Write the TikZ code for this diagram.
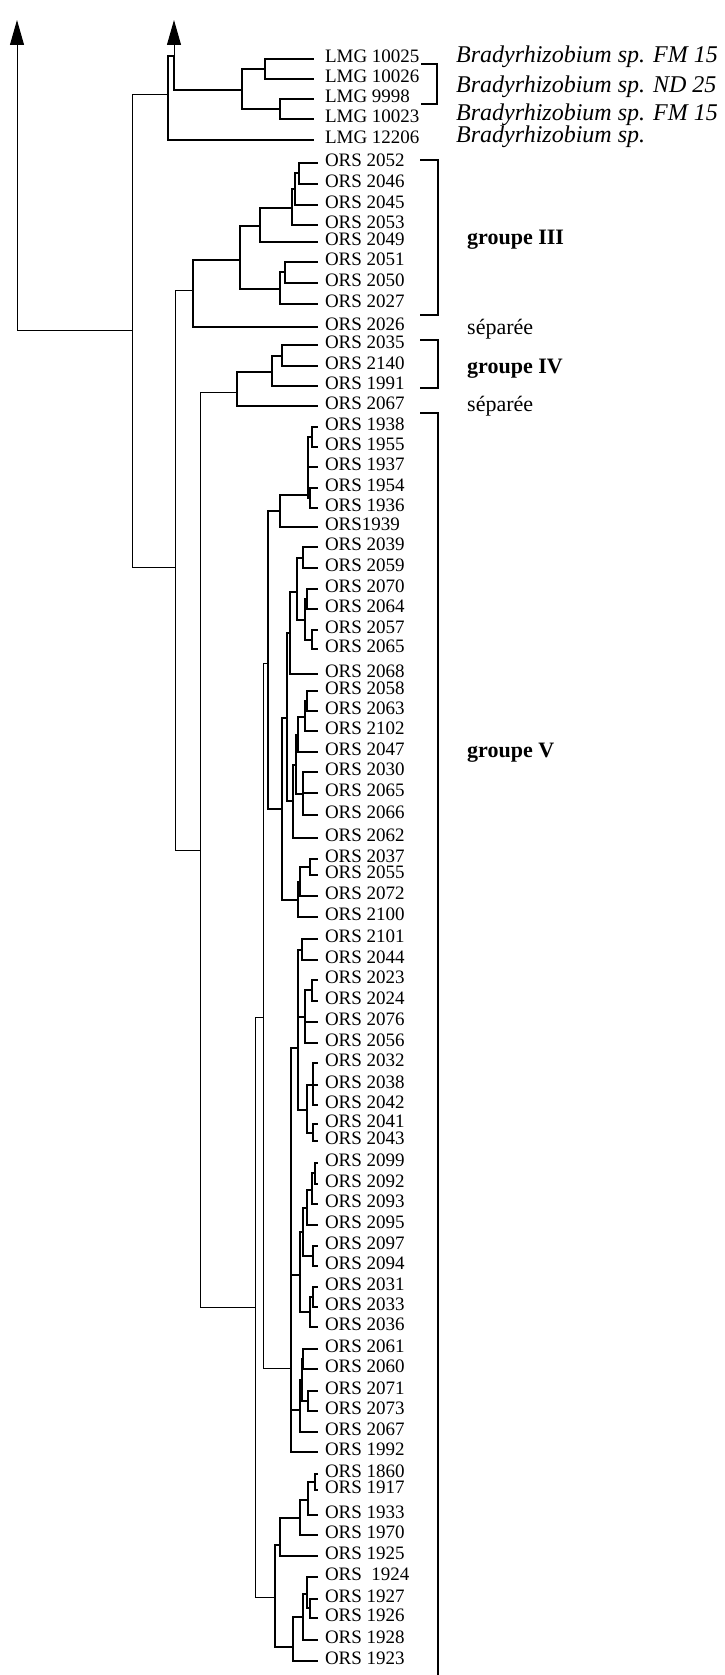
\documentclass[tikz,border=0pt]{standalone}
\usepackage{fontspec}
\setmainfont{Liberation Serif}
\usetikzlibrary{arrows.meta}
\begin{document}
\begin{tikzpicture}[x=1pt,y=-1pt,
  lk/.style={line width=1.8pt, line join=miter},
  lkthin/.style={line width=1.0pt, line join=miter},
  brk/.style={line width=1.3pt},
  leaf/.style={anchor=west, inner sep=0pt, outer xsep=7pt, outer ysep=0pt,
    text height=0.66em, text depth=0pt, font=\fontsize{19}{19}\selectfont},
  lmg/.style={leaf, outer xsep=11pt},
  spec/.style={anchor=west, inner sep=0pt, text height=0.66em, text depth=0pt,
    font=\fontsize{24}{24}\selectfont\itshape},
  grp/.style={anchor=base west, inner sep=0pt, font=\fontsize{22}{22}\selectfont\bfseries},
  sep/.style={anchor=base west, inner sep=0pt, font=\fontsize{22}{22}\selectfont}
]
\useasboundingbox (0,0) rectangle (725,1675);

% ---------- leaves ----------
\node[lmg] (l1) at (314,59) {LMG 10025};
\node[lmg] (l2) at (314,79) {LMG 10026};
\node[lmg] (l3) at (314,99) {LMG 9998};
\node[lmg] (l4) at (314,119) {LMG 10023};
\node[lmg] (l5) at (314,140) {LMG 12206};
\node[leaf] (l6) at (318,163) {ORS 2052};
\node[leaf] (l7) at (318,184) {ORS 2046};
\node[leaf] (l8) at (318,205) {ORS 2045};
\node[leaf] (l9) at (318,225) {ORS 2053};
\node[leaf] (l10) at (318,242) {ORS 2049};
\node[leaf] (l11) at (318,262) {ORS 2051};
\node[leaf] (l12) at (318,283) {ORS 2050};
\node[leaf] (l13) at (318,304) {ORS 2027};
\node[leaf] (l14) at (318,327) {ORS 2026};
\node[leaf] (l15) at (318,345) {ORS 2035};
\node[leaf] (l16) at (318,366) {ORS 2140};
\node[leaf] (l17) at (318,386) {ORS 1991};
\node[leaf] (l18) at (318,406) {ORS 2067};
\node[leaf] (l19) at (318,427) {ORS 1938};
\node[leaf] (l20) at (318,447) {ORS 1955};
\node[leaf] (l21) at (318,467) {ORS 1937};
\node[leaf] (l22) at (318,488) {ORS 1954};
\node[leaf] (l23) at (318,508) {ORS 1936};
\node[leaf] (l24) at (318,527) {ORS1939};
\node[leaf] (l25) at (318,547) {ORS 2039};
\node[leaf] (l26) at (318,568) {ORS 2059};
\node[leaf] (l27) at (318,589) {ORS 2070};
\node[leaf] (l28) at (318,609) {ORS 2064};
\node[leaf] (l29) at (318,630) {ORS 2057};
\node[leaf] (l30) at (318,649) {ORS 2065};
\node[leaf] (l31) at (318,674) {ORS 2068};
\node[leaf] (l32) at (318,691) {ORS 2058};
\node[leaf] (l33) at (318,711) {ORS 2063};
\node[leaf] (l34) at (318,731) {ORS 2102};
\node[leaf] (l35) at (318,752) {ORS 2047};
\node[leaf] (l36) at (318,772) {ORS 2030};
\node[leaf] (l37) at (318,793) {ORS 2065};
\node[leaf] (l38) at (318,815) {ORS 2066};
\node[leaf] (l39) at (318,838) {ORS 2062};
\node[leaf] (l40) at (318,859) {ORS 2037};
\node[leaf] (l41) at (318,875) {ORS 2055};
\node[leaf] (l42) at (318,896) {ORS 2072};
\node[leaf] (l43) at (318,917) {ORS 2100};
\node[leaf] (l44) at (318,939) {ORS 2101};
\node[leaf] (l45) at (318,960) {ORS 2044};
\node[leaf] (l46) at (318,980) {ORS 2023};
\node[leaf] (l47) at (318,1001) {ORS 2024};
\node[leaf] (l48) at (318,1022) {ORS 2076};
\node[leaf] (l49) at (318,1043) {ORS 2056};
\node[leaf] (l50) at (318,1063) {ORS 2032};
\node[leaf] (l51) at (318,1085) {ORS 2038};
\node[leaf] (l52) at (318,1105) {ORS 2042};
\node[leaf] (l53) at (318,1124) {ORS 2041};
\node[leaf] (l54) at (318,1141) {ORS 2043};
\node[leaf] (l55) at (318,1163) {ORS 2099};
\node[leaf] (l56) at (318,1184) {ORS 2092};
\node[leaf] (l57) at (318,1204) {ORS 2093};
\node[leaf] (l58) at (318,1225) {ORS 2095};
\node[leaf] (l59) at (318,1246) {ORS 2097};
\node[leaf] (l60) at (318,1266) {ORS 2094};
\node[leaf] (l61) at (318,1287) {ORS 2031};
\node[leaf] (l62) at (318,1307) {ORS 2033};
\node[leaf] (l63) at (318,1327) {ORS 2036};
\node[leaf] (l64) at (318,1349) {ORS 2061};
\node[leaf] (l65) at (318,1369) {ORS 2060};
\node[leaf] (l66) at (318,1391) {ORS 2071};
\node[leaf] (l67) at (318,1411) {ORS 2073};
\node[leaf] (l68) at (318,1432) {ORS 2067};
\node[leaf] (l69) at (318,1452) {ORS 1992};
\node[leaf] (l70) at (318,1474) {ORS 1860};
\node[leaf] (l71) at (318,1490) {ORS 1917};
\node[leaf] (l72) at (318,1515) {ORS 1933};
\node[leaf] (l73) at (318,1535) {ORS 1970};
\node[leaf] (l74) at (318,1556) {ORS 1925};
\node[leaf] (l75) at (318,1577) {ORS\ \ 1924};
\node[leaf] (l76) at (318,1599) {ORS 1927};
\node[leaf] (l77) at (318,1618) {ORS 1926};
\node[leaf] (l78) at (318,1640) {ORS 1928};
\node[leaf] (l79) at (318,1661) {ORS 1923};

% ---------- internal nodes (x, join y) ----------
\coordinate (A) at (265,69);   \coordinate (B) at (280,109);
\coordinate (C) at (242,90);   \coordinate (arB) at (174,56);
\coordinate (D) at (168,95);
\coordinate (n1) at (299,173); \coordinate (n2) at (295,189);
\coordinate (n3) at (292,208); \coordinate (n4) at (260,226);
\coordinate (n5) at (285,272); \coordinate (n6) at (280,289);
\coordinate (n7) at (240,260); \coordinate (n8) at (193,290);
\coordinate (m1) at (282,356); \coordinate (m2) at (272,372);
\coordinate (G4) at (237,392);
\coordinate (s1) at (312,437); \coordinate (s2) at (310,498);
\coordinate (s3) at (308,495); \coordinate (N280) at (280,511);
\coordinate (a1) at (303,558); \coordinate (a2) at (307,599);
\coordinate (a3) at (312,640); \coordinate (a4) at (305,620);
\coordinate (M0) at (297,592); \coordinate (M1) at (290,633);
\coordinate (k1) at (307,701); \coordinate (k2) at (305,717);
\coordinate (k3) at (298,735); \coordinate (k4) at (303,794);
\coordinate (K1) at (296,765); \coordinate (K2) at (293,801);
\coordinate (M2) at (287,718);
\coordinate (j1) at (310,867); \coordinate (j2) at (300,882);
\coordinate (J3) at (298,900);
\coordinate (N282) at (282,809); \coordinate (N268) at (268,663);
\coordinate (A1) at (302,950);  \coordinate (a21) at (312,990);
\coordinate (A2) at (305,1017); \coordinate (a31) at (313,1085);
\coordinate (a32) at (313,1133); \coordinate (A3) at (307,1110);
\coordinate (GA) at (298,1048);
\coordinate (B1) at (315,1173); \coordinate (B2) at (312,1190);
\coordinate (B3) at (307,1208); \coordinate (B4) at (313,1256);
\coordinate (B5) at (303,1232); \coordinate (B6) at (313,1297);
\coordinate (B7) at (310,1312); \coordinate (GB) at (300,1275);
\coordinate (P0a) at (303,1359); \coordinate (P0b) at (308,1401);
\coordinate (P1) at (302,1380);  \coordinate (P2) at (300,1410);
\coordinate (X) at (291,1368);   \coordinate (N263) at (263,1017);
\coordinate (C1) at (315,1482); \coordinate (C2) at (308,1500);
\coordinate (C3) at (300,1518); \coordinate (C4) at (280,1545);
\coordinate (D1) at (310,1608); \coordinate (D2) at (307,1594);
\coordinate (D3) at (303,1617); \coordinate (D4) at (293,1647);
\coordinate (N275) at (275,1597);
\coordinate (N255) at (255,1307); \coordinate (N200) at (200,850);
\coordinate (N175) at (175,567);  \coordinate (N132) at (132,330);
\coordinate (root) at (17,330);   \coordinate (tipL) at (17,20);
\coordinate (tipR) at (174,20);

% ---------- links ----------
\foreach \p/\c in {A/l1.west, A/l2.west, B/l3.west, B/l4.west, C/A, C/B, arB/C, D/arB, D/l5.west,
  n1/l6.west, n1/l7.west, n2/n1, n2/l8.west, n3/n2, n3/l9.west, n4/n3, n4/l10.west,
  n5/l11.west, n5/l12.west, n6/n5, n6/l13.west, n7/n4, n7/n6, n8/n7, n8/l14.west,
  m1/l15.west, m1/l16.west, m2/m1, m2/l17.west, G4/m2, G4/l18.west,
  s1/l19.west, s1/l20.west, s2/l22.west, s2/l23.west, s3/s1, s3/l21.west, s3/s2,
  N280/s3, N280/l24.west,
  a1/l25.west, a1/l26.west, a2/l27.west, a2/l28.west, a3/l29.west, a3/l30.west,
  a4/a2, a4/a3, M0/a1, M0/a4, M1/M0, M1/l31.west,
  k1/l32.west, k1/l33.west, k2/k1, k2/l34.west, k3/k2, k3/l35.west,
  k4/l36.west, k4/l37.west, k4/l38.west, K1/k3, K1/k4, K2/K1, K2/l39.west, M2/M1, M2/K2,
  j1/l40.west, j1/l41.west, j2/j1, j2/l42.west, J3/j2, J3/l43.west,
  N282/M2, N282/J3, N268/N280, N268/N282,
  A1/l44.west, A1/l45.west, a21/l46.west, a21/l47.west, A2/a21, A2/l48.west, A2/l49.west,
  a31/l50.west, a31/l51.west, a31/l52.west, a32/l53.west, a32/l54.west, A3/a31, A3/a32,
  GA/A1, GA/A2, GA/A3,
  B1/l55.west, B1/l56.west, B2/B1, B2/l57.west, B3/B2, B3/l58.west, B4/l59.west, B4/l60.west,
  B5/B3, B5/B4, B6/l61.west, B6/l62.west, B7/B6, B7/l63.west, GB/B5, GB/B7,
  P0a/l64.west, P0a/l65.west, P0b/l66.west, P0b/l67.west, P1/P0a, P1/P0b, P2/P1, P2/l68.west,
  X/GA, X/GB, X/P2, X/l69.west,
  C1/l70.west, C1/l71.west, C2/C1, C2/l72.west, C3/C2, C3/l73.west, C4/C3, C4/l74.west,
  D1/l76.west, D1/l77.west, D2/l75.west, D2/D1, D3/D2, D3/l78.west, D4/D3, D4/l79.west,
  N275/C4, N275/D4}
  \draw[lk] (\p) |- (\c);

\foreach \p/\c in {N263/N268, N263/X, N255/N263, N255/N275, N200/G4, N200/N255,
  N175/n8, N175/N200, N132/D, N132/N175, root/N132}
  \draw[lkthin] (\p) |- (\c);

% arrows
\draw[lkthin, -{Triangle[width=14pt,length=25pt]}] (root) -- (tipL);
\draw[lkthin, -{Triangle[width=14pt,length=25pt]}] (arB) -- (tipR);

% ---------- brackets ----------
\coordinate (b1a) at (421,64);  \coordinate (b1b) at (437,64);
\coordinate (b1c) at (437,104); \coordinate (b1d) at (421,104);
\draw[brk] (b1a) -- (b1b) -- (b1c) -- (b1d);
\coordinate (b3a) at (420,160); \coordinate (b3b) at (438,160);
\coordinate (b3c) at (438,315); \coordinate (b3d) at (420,315);
\draw[brk] (b3a) -- (b3b) -- (b3c) -- (b3d);
\coordinate (b4a) at (420,340); \coordinate (b4b) at (438,340);
\coordinate (b4c) at (438,388); \coordinate (b4d) at (420,388);
\draw[brk] (b4a) -- (b4b) -- (b4c) -- (b4d);
\coordinate (b5a) at (420,413); \coordinate (b5b) at (438,413);
\coordinate (b5c) at (438,1675);
\draw[brk] (b5a) -- (b5b) -- (b5c);

% ---------- species / group labels ----------
\node[spec] (sp1) at (456,59) {Bradyrhizobium sp. FM 15};
\node[spec] (sp2) at (456,89) {Bradyrhizobium sp. ND 25};
\node[spec] (sp3) at (456,117) {Bradyrhizobium sp. FM 15};
\node[spec] (sp4) at (456,139) {Bradyrhizobium sp.};
\node[grp] (g3) at (467,244) {groupe III};
\node[sep] (se1) at (467,334) {séparée};
\node[grp] (g4) at (467,373) {groupe IV};
\node[sep] (se2) at (467,411) {séparée};
\node[grp] (g5) at (467,757) {groupe V};
\end{tikzpicture}
\end{document}
